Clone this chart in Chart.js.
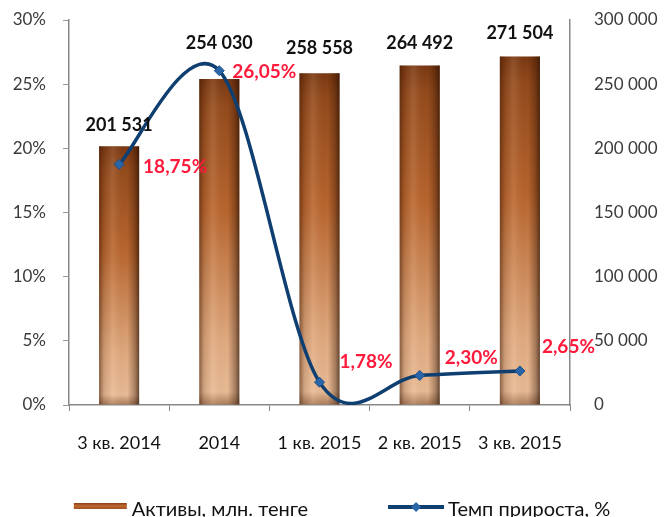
<!DOCTYPE html>
<html>
<head>
<meta charset="utf-8">
<script src="https://cdn.jsdelivr.net/npm/chart.js@4/dist/chart.umd.min.js"></script>
<style>
  html, body { margin: 0; padding: 0; background: #fff; overflow: hidden; }
  #wrap { position: relative; width: 666px; height: 517px; }
</style>
</head>
<body>
<div id="wrap"><canvas id="chart"></canvas></div>
<script>
// data
const categories = ["3 кв. 2014", "2014", "1 кв. 2015", "2 кв. 2015", "3 кв. 2015"];
const assets = [201531, 254030, 258558, 264492, 271504];
const growth = [18.75, 26.05, 1.78, 2.30, 2.65];
const assetLabels = ["201 531", "254 030", "258 558", "264 492", "271 504"];
const growthLabels = ["18,75%", "26,05%", "1,78%", "2,30%", "2,65%"];
const seriesNames = ["Активы, млн. тенге", "Темп прироста, %"];

// label placement (pixels relative to the mark)
const assetLabelLift = [21, 36, 25, 22, 23];
const growthLabelDx = [24, 13, 20, 25, 22];
const growthLabelDy = [-2, -1, 20, 18, 24];

const FONT = "Lato, 'Open Sans', sans-serif";
const LINE_COLOR = "#0f3e70";

function barFill(ctx) {
  const chart = ctx.chart;
  if (!chart.chartArea || ctx.type !== "data") return "#b0622a";
  const y = chart.scales.y1;
  const top = y.getPixelForValue(ctx.raw);
  const bottom = y.getPixelForValue(0);
  const g = chart.ctx.createLinearGradient(0, top, 0, bottom);
  g.addColorStop(0, "#7a3812");
  g.addColorStop(0.08, "#934a1c");
  g.addColorStop(0.4, "#b8652e");
  g.addColorStop(0.8, "#e0aa80");
  g.addColorStop(0.96, "#e8bb96");
  g.addColorStop(1, "#a97a5a");
  return g;
}

// vertical axes: keep only half a label of room above/below the plot
function noTickPadding(s) {
  s.paddingTop = 0;
  s.paddingBottom = 0;
}

// Excel-style smoothing: uniform catmull-rom control points (1/6 of neighbour span)
const excelSmooth = {
  id: "excelSmooth",
  beforeDatasetDraw(chart, args) {
    if (args.meta.type !== "line") return;
    const line = args.meta.dataset;
    line.updateControlPoints(chart.chartArea, "x");
    const pts = args.meta.data;
    pts.forEach((p, i) => {
      const prev = pts[Math.max(i - 1, 0)];
      const next = pts[Math.min(i + 1, pts.length - 1)];
      const dx = (next.x - prev.x) / 6;
      const dy = (next.y - prev.y) / 6;
      p.cp1x = p.x - dx; p.cp1y = p.y - dy;
      p.cp2x = p.x + dx; p.cp2y = p.y + dy;
    });
  },
};

const barShade = {
  id: "barShade",
  afterDatasetDraw(chart, args) {
    if (args.index !== 0) return;
    const ctx = chart.ctx;
    args.meta.data.forEach((bar) => {
      const left = bar.x - bar.width / 2;
      const right = bar.x + bar.width / 2;
      const g = ctx.createLinearGradient(left, 0, right, 0);
      g.addColorStop(0, "rgba(60,25,5,0.55)");
      g.addColorStop(0.12, "rgba(60,25,5,0.15)");
      g.addColorStop(0.35, "rgba(255,230,200,0.12)");
      g.addColorStop(0.7, "rgba(60,25,5,0.0)");
      g.addColorStop(0.9, "rgba(40,15,0,0.35)");
      g.addColorStop(1, "rgba(30,10,0,0.65)");
      ctx.save();
      ctx.fillStyle = g;
      ctx.fillRect(left, bar.y, bar.width, bar.base - bar.y);
      ctx.restore();
    });
  },
};

const valueLabels = {
  id: "valueLabels",
  afterDatasetsDraw(chart) {
    const ctx = chart.ctx;
    ctx.save();
    ctx.textBaseline = "middle";
    ctx.font = "bold 18px " + FONT;
    ctx.fillStyle = "#111";
    ctx.textAlign = "center";
    chart.getDatasetMeta(0).data.forEach((bar, i) => {
      ctx.fillText(assetLabels[i], bar.x, bar.y - assetLabelLift[i]);
    });
    ctx.font = "bold 19px " + FONT;
    ctx.fillStyle = "#ff1a3c";
    ctx.textAlign = "left";
    chart.getDatasetMeta(1).data.forEach((pt, i) => {
      ctx.fillText(growthLabels[i], pt.x + growthLabelDx[i], pt.y - growthLabelDy[i]);
    });
    ctx.restore();
  },
};

// legend along the cut-off bottom edge, as in the original
const bottomLegend = {
  id: "bottomLegend",
  afterDraw(chart) {
    const ctx = chart.ctx;
    ctx.save();
    ctx.font = "20px " + FONT;
    ctx.textBaseline = "middle";
    ctx.textAlign = "left";
    const w1 = ctx.measureText(seriesNames[0]).width;
    const w2 = ctx.measureText(seriesNames[1]).width;
    const total = 53 + 5 + w1 + 80 + 56 + 4 + w2;
    let x = chart.width / 2 + 9 - total / 2;
    const y = 510;

    const g = ctx.createLinearGradient(0, y - 7, 0, y - 1);
    g.addColorStop(0, "#8a3f15");
    g.addColorStop(0.5, "#c06a30");
    g.addColorStop(1, "#a05020");
    ctx.fillStyle = g;
    ctx.fillRect(x, y - 7, 53, 6);
    x += 58;
    ctx.fillStyle = "#111";
    ctx.fillText(seriesNames[0], x, y);
    x += w1 + 80;

    ctx.strokeStyle = LINE_COLOR;
    ctx.lineWidth = 4;
    ctx.beginPath(); ctx.moveTo(x, y - 3); ctx.lineTo(x + 56, y - 3); ctx.stroke();
    ctx.fillStyle = "#2a65a8";
    const cx = x + 28;
    ctx.beginPath();
    ctx.moveTo(cx, y - 8); ctx.lineTo(cx + 5, y - 3); ctx.lineTo(cx, y + 2); ctx.lineTo(cx - 5, y - 3);
    ctx.closePath(); ctx.fill();
    x += 60;
    ctx.fillStyle = "#111";
    ctx.fillText(seriesNames[1], x, y);
    ctx.restore();
  },
};

new Chart(document.getElementById("chart"), {
  type: "bar",
  data: {
    labels: categories,
    datasets: [
      {
        type: "bar",
        label: seriesNames[0],
        data: assets,
        yAxisID: "y1",
        backgroundColor: barFill,
        borderWidth: 0,
        barPercentage: 0.4,
        categoryPercentage: 1,
        order: 2,
      },
      {
        type: "line",
        label: seriesNames[1],
        data: growth,
        yAxisID: "y",
        borderColor: LINE_COLOR,
        borderWidth: 3.5,
        tension: 0.4,
        pointStyle: "rectRot",
        pointRadius: 5,
        pointBackgroundColor: "#2a65a8",
        pointBorderColor: "#184f8c",
        pointBorderWidth: 1,
        order: 1,
      },
    ],
  },
  options: {
    responsive: true,
    maintainAspectRatio: false,
    animation: false,
    layout: { padding: { top: 20, left: 0, right: 0, bottom: 0 } },
    plugins: {
      tooltip: { enabled: false },
      legend: { display: false },
    },
    scales: {
      x: {
        afterFit: (s) => { s.height = 112; },
        grid: { offset: true, drawOnChartArea: false, tickLength: 6, color: "#888" },
        border: { color: "#888", width: 1.5 },
        ticks: { padding: 21, color: "#111", font: { family: FONT, size: 18 } },
      },
      y: {
        position: "left",
        min: 0,
        max: 30,
        afterFit: (s) => { s.width = 69; noTickPadding(s); },
        grid: { drawOnChartArea: false, tickLength: 6, color: "#999" },
        border: { color: "#888", width: 1.5 },
        ticks: {
          stepSize: 5,
          padding: 17,
          color: "#3a3a3a",
          font: { family: FONT, size: 17 },
          callback: (v) => v + "%",
        },
      },
      y1: {
        position: "right",
        min: 0,
        max: 300000,
        afterFit: (s) => { s.width = 96; noTickPadding(s); },
        grid: { drawOnChartArea: false, drawTicks: false },
        border: { color: "#888", width: 1.5 },
        ticks: {
          stepSize: 50000,
          padding: 24,
          color: "#3a3a3a",
          font: { family: FONT, size: 17 },
          callback: (v) => String(v).replace(/\B(?=(\d{3})+(?!\d))/g, " "),
        },
      },
    },
  },
  plugins: [excelSmooth, barShade, valueLabels, bottomLegend],
});
</script>
</body>
</html>
